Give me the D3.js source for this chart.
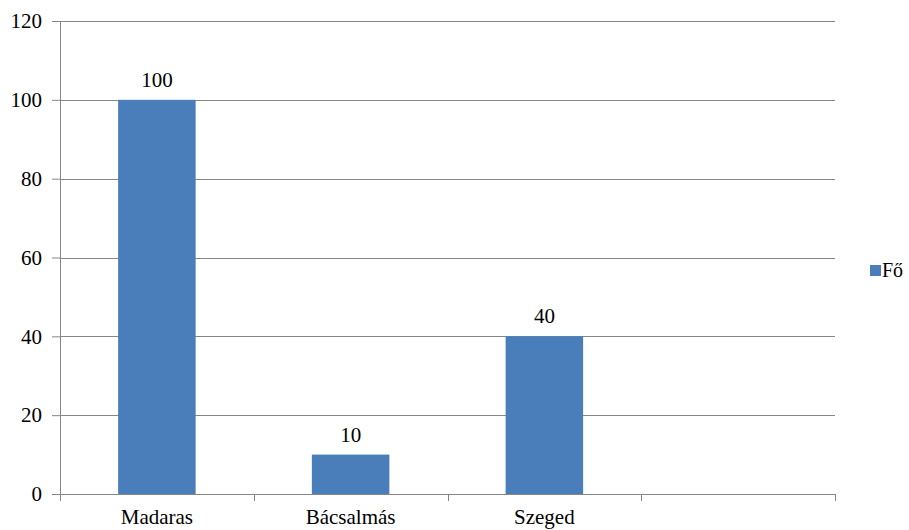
<!DOCTYPE html>
<html>
<head>
<meta charset="utf-8">
<script src="https://cdn.jsdelivr.net/npm/d3@7"></script>
<style>
  html, body { margin: 0; padding: 0; background: #fff; }
  #chart text { font-family: "Liberation Serif", "Times New Roman", Times, "DejaVu Serif", serif !important; fill: #000; }
</style>
</head>
<body>
<svg id="chart" width="909" height="530"></svg>
<script>
// Chart data
const categories = ["Madaras", "Bácsalmás", "Szeged", ""];
const values = [100, 10, 40, null];
const seriesName = "Fő";
const yTicks = [0, 20, 40, 60, 80, 100, 120];

const W = 909, H = 530;
const margin = { left: 60, right: 74, top: 21, bottom: 36 };
const plotW = W - margin.left - margin.right;
const plotH = H - margin.top - margin.bottom;
const barColor = "#4a7ebb";
const lineColor = "#878787";
const fontFam = "'Liberation Serif', 'Times New Roman', serif";
const fontSize = 21;

const svg = d3.select("#chart");
const g = svg.append("g").attr("transform", `translate(${margin.left},${margin.top})`);

const x = d3.scaleBand().domain(d3.range(categories.length)).range([0, plotW]).padding(0);
const y = d3.scaleLinear().domain([0, 120]).range([plotH, 0]);

// Horizontal gridlines
g.append("g")
  .selectAll("line")
  .data(yTicks.filter(t => t > 0))
  .join("line")
  .attr("x1", 0).attr("x2", plotW)
  .attr("y1", d => Math.round(y(d)) + 0.5).attr("y2", d => Math.round(y(d)) + 0.5)
  .attr("stroke", lineColor).attr("stroke-width", 1);

// Bars
const barFrac = 0.4;
const barData = values.map((v, i) => ({ v, i })).filter(d => d.v != null);
g.append("g")
  .selectAll("rect")
  .data(barData)
  .join("rect")
  .attr("x", d => x(d.i) + x.bandwidth() * (1 - barFrac) / 2)
  .attr("width", x.bandwidth() * barFrac)
  .attr("y", d => y(d.v))
  .attr("height", d => y(0) - y(d.v))
  .attr("fill", barColor);

// Value labels
g.append("g")
  .selectAll("text")
  .data(barData)
  .join("text")
  .attr("x", d => x(d.i) + x.bandwidth() / 2)
  .attr("y", d => y(d.v) - 13)
  .attr("text-anchor", "middle")
  .style("font-family", fontFam)
  .attr("font-size", fontSize)
  .text(d => d.v);

// Y axis
const yAxis = g.append("g")
  .call(d3.axisLeft(y).tickValues(yTicks).tickSize(8).tickPadding(10).tickFormat(d3.format("d")))
  .attr("font-family", null);
yAxis.select(".domain").attr("stroke", lineColor);
yAxis.selectAll(".tick line").attr("stroke", lineColor);
yAxis.selectAll(".tick text").attr("font-size", fontSize).style("font-family", fontFam).attr("fill", "#000");

// X axis with ticks at category boundaries
const xAxisG = g.append("g").attr("transform", `translate(0,${plotH})`);
xAxisG.append("line")
  .attr("x1", 0).attr("x2", plotW).attr("y1", 0.5).attr("y2", 0.5)
  .attr("stroke", lineColor);
xAxisG.selectAll("line.tk")
  .data(d3.range(categories.length + 1))
  .join("line")
  .attr("class", "tk")
  .attr("x1", d => Math.round(d * x.step()) + 0.5).attr("x2", d => Math.round(d * x.step()) + 0.5)
  .attr("y1", 0).attr("y2", 7)
  .attr("stroke", lineColor);
xAxisG.selectAll("text")
  .data(categories)
  .join("text")
  .attr("x", (d, i) => x(i) + x.bandwidth() / 2)
  .attr("y", 30)
  .attr("text-anchor", "middle")
  .style("font-family", fontFam)
  .attr("font-size", fontSize)
  .text(d => d);

// Legend
const legend = svg.append("g").attr("transform", "translate(870,265)");
legend.append("rect").attr("width", 11).attr("height", 11).attr("fill", barColor);
legend.append("text").attr("x", 12).attr("y", 12).style("font-family", fontFam).attr("font-size", 20).text(seriesName);
</script>
</body>
</html>
